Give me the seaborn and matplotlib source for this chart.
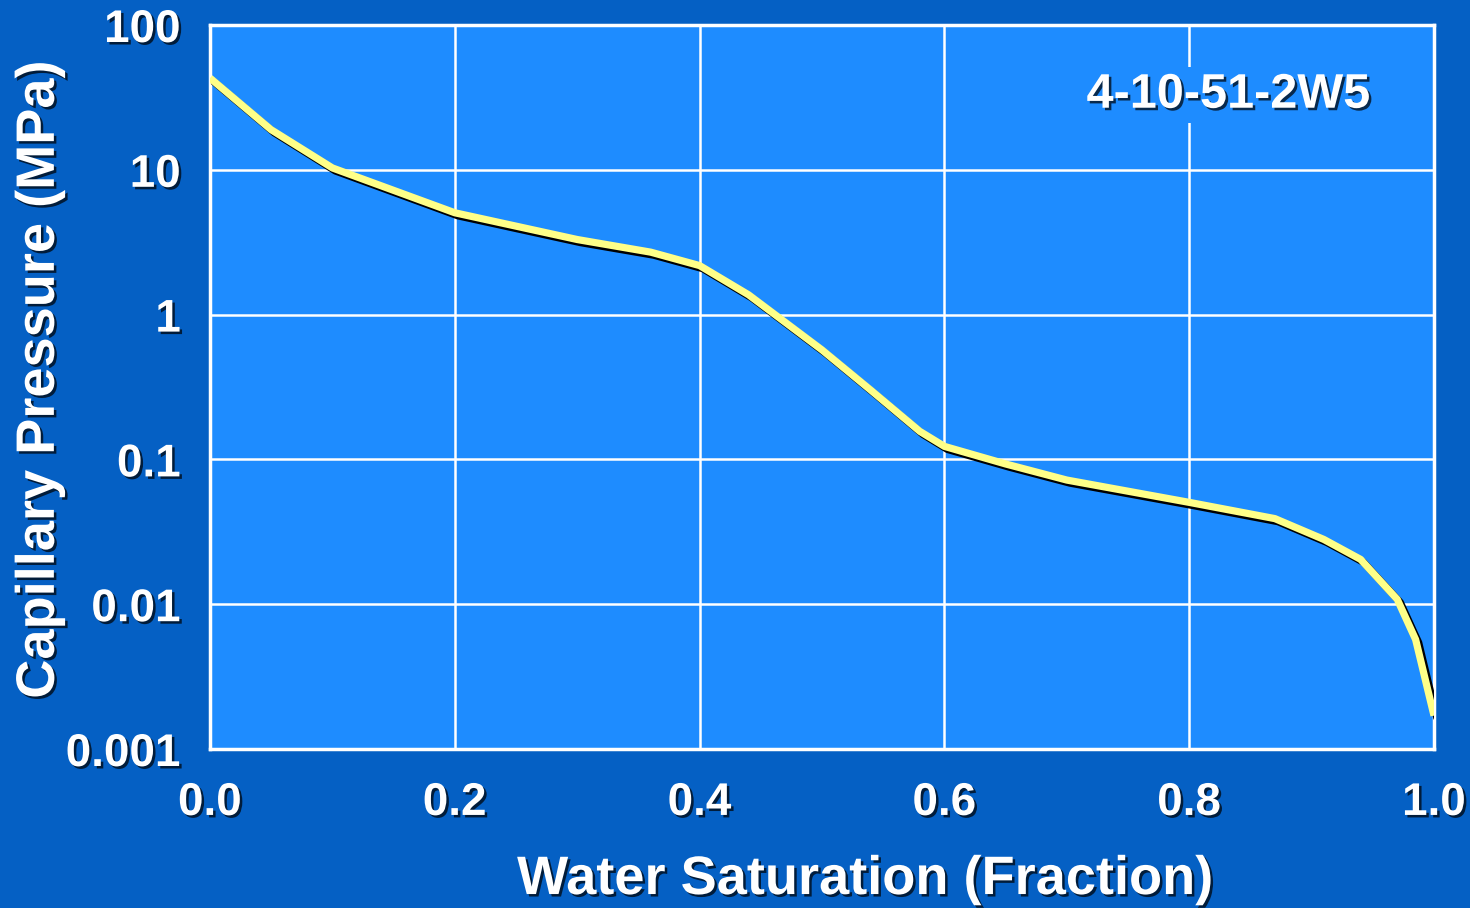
import numpy as np
import pandas as pd
import matplotlib
matplotlib.use("Agg")
import matplotlib.pyplot as plt
import matplotlib.patheffects as pe
import seaborn as sns

# Data
water_saturation = [0.0, 0.05, 0.10, 0.20, 0.30, 0.36, 0.40, 0.44, 0.50, 0.54, 0.58,
                    0.60, 0.65, 0.70, 0.80, 0.87, 0.91, 0.94, 0.97, 0.985, 1.0]
capillary_pressure = [43.0, 18.9, 10.3, 5.05, 3.3, 2.7, 2.18, 1.37, 0.57, 0.30, 0.156,
                      0.123, 0.093, 0.072, 0.0505, 0.039, 0.028, 0.0204, 0.0108, 0.0057, 0.0017]
x_ticks = [0.0, 0.2, 0.4, 0.6, 0.8, 1.0]
x_tick_labels = ["0.0", "0.2", "0.4", "0.6", "0.8", "1.0"]
y_ticks = [100, 10, 1, 0.1, 0.01, 0.001]
y_tick_labels = ["100", "10", "1", "0.1", "0.01", "0.001"]
sample_label = "4-10-51-2W5"

OUTER = "#0560C4"
INNER = "#1E8CFF"

sns.set_style("white")
plt.rcParams["font.family"] = ["Liberation Sans", "DejaVu Sans"]
plt.rcParams["font.weight"] = "bold"

df = pd.DataFrame({"Sw": water_saturation, "Pc": capillary_pressure})

fig = plt.figure(figsize=(14.7, 9.08), dpi=100, facecolor=OUTER)
ax = fig.add_axes([210 / 1470, 1 - 749 / 908, (1434 - 210) / 1470, (749 - 25) / 908])
ax.set_facecolor(INNER)

sns.lineplot(data=df, x="Sw", y="Pc", ax=ax, color="#FFFF88", linewidth=5.2,
             solid_joinstyle="round", solid_capstyle="butt", zorder=5,
             path_effects=[pe.SimpleLineShadow(offset=(2.2, -2.2), shadow_color="black", alpha=1.0),
                           pe.Normal()])

ax.set_yscale("log")
ax.set_xlim(0, 1.0)
ax.set_ylim(0.001, 100)
ax.set_xticks(x_ticks)
ax.set_xticklabels(x_tick_labels)
ax.set_yticks(y_ticks)
ax.set_yticklabels(y_tick_labels)
ax.minorticks_off()

ax.grid(True, which="major", color=(1, 1, 1, 0.42), linewidth=1.8)
ax.set_axisbelow(True)
for s in ax.spines.values():
    s.set_color("white")
    s.set_linewidth(2.5)
    s.set_visible(True)

txt_shadow = [pe.SimplePatchShadow(offset=(1.8, -1.8), shadow_rgbFace="black", alpha=0.7), pe.Normal()]

ax.tick_params(axis="both", colors="white", direction="out", width=2.5, length=9,
               labelsize=33, labelcolor="white")
ax.tick_params(axis="x", pad=14)
ax.tick_params(axis="y", pad=12)
for lab in ax.get_xticklabels() + ax.get_yticklabels():
    lab.set_fontweight("bold")
    lab.set_path_effects(txt_shadow)

ax.set_xlabel("Water Saturation (Fraction)", fontsize=39, fontweight="bold", color="white",
              path_effects=txt_shadow)
ax.set_ylabel("Capillary Pressure (MPa)", fontsize=39, fontweight="bold", color="white",
              path_effects=txt_shadow)
ax.xaxis.label.set_va("center")
ax.yaxis.label.set_va("center")
ax.xaxis.set_label_coords(0.535, -0.181)
ax.yaxis.set_label_coords(-0.139, 0.51)

ax.text(0.832, 0.903, sample_label, transform=ax.transAxes, ha="center", va="center",
        fontsize=35, fontweight="bold", color="white", path_effects=txt_shadow, zorder=6,
        bbox=dict(facecolor=INNER, edgecolor="none", pad=4))

fig.savefig("out.png", dpi=100, facecolor=OUTER)
